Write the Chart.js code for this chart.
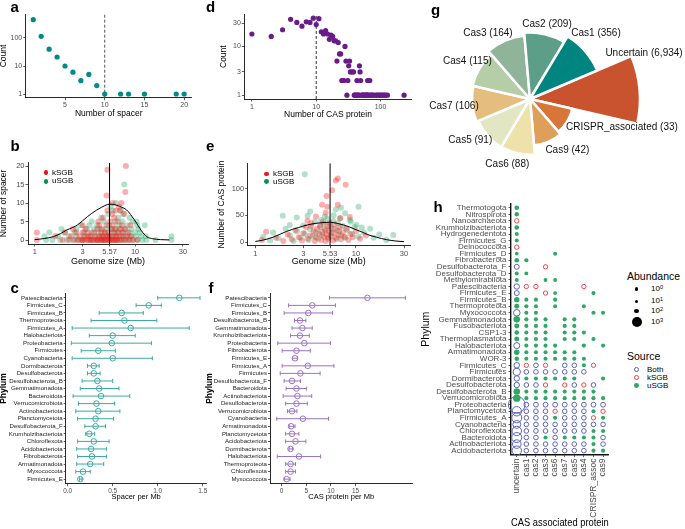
<!DOCTYPE html>
<html><head><meta charset="utf-8"><title>CRISPR-Cas figure</title>
<script src="https://cdn.jsdelivr.net/npm/chart.js@4.4.1/dist/chart.umd.min.js"></script>
<style>
html,body{margin:0;padding:0;background:#fff;}
#wrap{position:relative;width:685px;height:529px;overflow:hidden;font-family:'Liberation Sans',Arial,sans-serif;background:#fff;}
canvas{position:absolute;}
.lab{position:absolute;font-weight:bold;font-size:15px;line-height:15px;color:#000;}
.t{position:absolute;white-space:nowrap;color:#000;}
.dot{position:absolute;border-radius:50%;box-sizing:border-box;}
sup{font-size:70%;vertical-align:0;position:relative;top:-0.45em;}
</style></head>
<body>
<div id="wrap">
<canvas id="ca" width="202" height="120" style="left:-2px;top:0px"></canvas>
<canvas id="cd" width="205" height="120" style="left:215px;top:0px"></canvas>
<canvas id="cb" width="202" height="145" style="left:-2px;top:125px"></canvas>
<canvas id="ce" width="205" height="145" style="left:215px;top:125px"></canvas>
<canvas id="cc" width="215" height="225" style="left:-2px;top:285px"></canvas>
<canvas id="cf" width="215" height="225" style="left:204px;top:285px"></canvas>
<canvas id="ch" width="200" height="334" style="left:415px;top:195px"></canvas>
<canvas id="cg" width="275" height="240" style="left:410px;top:-20px"></canvas>
<div class="lab" style="left:10.5px;top:-1px">a</div>
<div class="lab" style="left:206px;top:-1px">d</div>
<div class="lab" style="left:10.5px;top:138px">b</div>
<div class="lab" style="left:206px;top:138px">e</div>
<div class="lab" style="left:10.5px;top:280px">c</div>
<div class="lab" style="left:208.5px;top:280px">f</div>
<div class="lab" style="left:431px;top:2.3px">g</div>
<div class="lab" style="left:433.5px;top:199px">h</div>
<div id="legends"></div>
</div>
<script>
// ---------- data ----------
// a: spacer number distribution
const spacerNum   = [1,2,3,4,5,6,7,8,9,10,12,13,15,19,20];
const spacerCount = [450,115,40,21,10,6,3,5,2,1,1,1,1,1,1];
const spacerCut = 10;
// d: CAS protein number distribution
const casNum   = [1,2,3,4,5,6,7,8,9,10,11,12,13,14,15,16,17,18,19,20,21,22,23,24,25,26,27,28,29,30,31,32,33,34,36,38,43,47,48,49,63,68,
                  39,40,41,42,44,45,46,50,52,53,55,56,58,60,61,62,64,66,70,72,75,78,84,88,92,96,100,105,110,115,120,128,232];
const casCount = [18,16,22,36,31,26,32,31,38,28,37,20,18,21,18,14,17,16,13,13,5,12,7,7,2,2,2,10,5,1,2,4,5,3,3,3,2,4,3,2,2,2,
                  1,1,1,1,1,1,1,1,1,1,1,1,1,1,1,1,1,1,1,1,1,1,1,1,1,1,1,1,1,1,1,1,1,1];
const casCut = 10;
// b: genome size (Mb) vs number of spacer
const bKSGB = [[1.05,0],[1.9,0],[2.2,0],[2.5,0],[2.7,0],[2.9,0],[3.1,0],[3.3,0],[3.5,0],[3.7,0],[3.9,0],[4.1,0],[4.3,0],[4.5,0],[4.7,0],[4.9,0],[5.1,0],[5.3,0],[5.5,0],[5.8,0],[6.0,0],[6.3,0],[6.6,0],[6.9,0],[7.3,0],[7.7,0],[8.2,0],[8.8,0],[9.5,0],[10.5,0],[3.0,0],[3.6,0],[4.2,0],[4.8,0],[5.6,0],[6.4,0],
 [1.6,1],[2.3,1],[2.8,1],[3.2,1],[3.6,1],[4.0,1],[4.4,1],[4.8,1],[5.2,1],[5.6,1],[6.1,1],[6.5,1],[7.0,1],[7.6,1],[8.4,1],[9.2,1],[3.4,1],[4.6,1],[5.4,1],
 [1.05,2],[2.0,2],[2.6,2],[3.0,2],[3.4,2],[3.9,2],[4.6,2],[5.0,2],[5.4,2],[6.2,2],[6.8,2],[7.5,2],[8.5,2],
 [2.4,3],[3.2,3],[4.2,3],[4.7,3],[5.9,3],[6.4,3],[7.2,3],[8.0,3],[3.0,4],[4.4,4],[5.2,4],[6.0,4],[7.4,4],[9.0,4],
 [4.3,5],[5.6,5],[6.7,5],[4.8,6],[6.2,6],[5.9,7],[7.8,7],[5.3,8],[6.4,8],[7.1,8],[6.9,9],[6.0,10],[7.3,10],[5.2,12],[8.0,13],[5.3,19],[8.1,20]];
const bUSGB = [[1.3,0],[1.5,0],[1.8,0],[2.1,0],[2.4,0],[2.7,0],[3.0,0],[3.4,0],[3.8,0],[4.2,0],[4.6,0],[5.0,0],[5.5,0],[6.0,0],[6.6,0],[7.2,0],[7.9,0],[8.7,0],[9.6,0],[10.6,0],[11.8,0],[13,0],[16,0],[23,0],
 [1.25,1],[1.7,1],[2.2,1],[2.6,1],[3.1,1],[3.6,1],[4.1,1],[4.7,1],[5.3,1],[5.9,1],[6.5,1],[7.3,1],[8.1,1],[9.0,1],[10.2,1],[11.5,1],[12.8,1],[23,1],
 [1.4,2],[2.0,2],[2.5,2],[3.1,2],[3.7,2],[4.3,2],[5.0,2],[5.8,2],[6.6,2],[7.6,2],[8.8,2],[10.0,2],[11.2,2],
 [1.85,3],[2.6,3],[3.3,3],[3.9,3],[4.5,3],[5.1,3],[5.7,3],[6.3,3],[7.0,3],[7.9,3],[9.2,3],[10.8,3],
 [2.9,4],[3.5,4],[4.2,4],[5.5,4],[6.9,4],[8.4,4],[10.5,4],[12.5,4],[3.7,5],[4.9,5],[6.3,5],[7.5,5],[9.4,5],[10.3,5],
 [4.6,6],[6.8,6],[8.8,6],[5.4,7],[7.6,7],[6.0,8],[7.2,8],[5.7,9],[6.45,10],[7.8,15]];
const bCurveX = [1,1.25,1.53,1.8,2.08,2.4,2.66,3,3.35,3.7,4.15,4.6,5,5.57,6.2,7,8.26,9.3,10.4,11.5,13.1,15,18,22];
const bCurveY = [0.1,0.4,0.9,1.7,2.7,3.4,4.05,5.2,6.3,7.2,8.1,8.8,9.3,9.7,9.6,9.1,8.1,6.4,4.5,2.6,0.9,0.35,0.1,0.02];
const bMedian = 5.57;
const bXTicks = [1,3,5.57,10,30];
// e: genome size (Mb) vs number of CAS protein
const eKSGB = [[1.16,4],[1.28,19],[1.6,8],[1.9,2],[2.1,14],[2.3,5],[2.5,22],[2.7,9],[2.9,3],[3.0,17],[3.2,28],[3.3,6],[3.5,12],[3.6,35],[3.8,20],[3.9,2],[4.0,9],[4.1,25],[4.3,15],[4.4,31],[4.5,4],[4.6,19],[4.7,38],[4.8,10],[4.9,24],[5.0,2],[5.1,14],[5.2,30],[5.3,6],[5.4,20],[5.5,36],[5.6,11],[5.7,26],[5.9,3],[6.0,17],[6.1,33],[6.3,8],[6.5,22],[6.7,13],[6.9,28],[7.1,5],[7.4,18],[7.7,10],[8.0,25],[8.4,4],[8.8,15],[9.3,9],[10,20],[11,6],[12.5,12],
 [3.3,40],[4.6,70],[5.1,86],[5.2,66],[5.8,97],[6.3,115],[6.6,119],[6.6,70],[7.9,107],[8.7,47],[4.0,48],[7.0,45],[5.0,55],[3.6,30]];
const eUSGB = [[1.2,10],[1.4,3],[1.5,18],[1.7,7],[1.87,49],[2.0,25],[2.2,12],[2.4,2],[2.58,46],[2.6,20],[2.8,8],[3.0,31],[3.1,127],[3.1,15],[3.3,49],[3.4,4],[3.5,57],[3.5,24],[3.7,11],[3.9,38],[4.0,18],[4.2,6],[4.4,28],[4.5,41],[4.6,13],[4.8,34],[5.0,21],[5.2,44],[5.3,9],[5.5,30],[5.7,16],[5.9,40],[6.1,25],[6.3,61],[6.4,5],[6.6,35],[6.8,20],[7.1,64],[7.1,12],[7.4,30],[7.8,54],[7.8,8],[8.2,22],[8.7,41],[8.9,38],[9.2,15],[9.7,28],[10.1,32],[10.6,66],[10.6,10],[11.4,27],[12,18],[13.8,25],[15,8],[17,14],[20,4],[23.5,13],[6.0,50],[4.9,48],[6.9,44],[2.2,32]];
const eCurveX = [1,1.2,1.5,2.05,2.67,3.3,4,4.7,5.53,6.5,7.5,8.7,10,11.4,13,16,20,25,30];
const eCurveY = [1,3.7,9,20,27,32,35,36.5,37,35,32,28,23,19,14,9,4.5,1.8,0.7];
const eMedian = 5.53;
const eXTicks = [1,3,5.53,10,30];
// c: spacer per Mb by phylum
const cPhyla = ['Patescibacteria','Firmicutes_C','Firmicutes_B','Thermoproteota','Firmicutes_A','Halobacteriota','Proteobacteria','Firmicutes','Cyanobacteria','Dormibacterota','Desulfobacterota','Desulfobacterota_B','Gemmatimonadota','Bacteroidota','Verrucomicrobiota','Actinobacteriota','Planctomycetota','Desulfobacterota_F','Krumholzibacteriota','Chloroflexota','Acidobacteriota','Fibrobacterota','Armatimonadota','Myxococcota','Firmicutes_E'];
const cMean = [1.24,0.90,0.60,0.63,0.70,0.50,0.49,0.34,0.50,0.29,0.29,0.33,0.35,0.37,0.32,0.34,0.31,0.31,0.24,0.29,0.26,0.27,0.25,0.17,0.14];
const cLow  = [1.00,0.76,0.35,0.26,0.05,0.24,0.04,0.15,0.05,0.22,0.22,0.16,0.14,0.06,0.12,0.09,0.11,0.19,0.20,0.11,0.10,0.11,0.10,0.09,0.13];
const cHigh = [1.47,1.04,0.84,0.99,1.35,0.75,0.93,0.53,0.94,0.35,0.36,0.50,0.57,0.69,0.52,0.58,0.51,0.42,0.30,0.46,0.43,0.43,0.40,0.25,0.16];
// f: CAS protein per Mb by phylum
const fPhyla = ['Patescibacteria','Firmicutes_C','Firmicutes_B','Desulfobacterota_B','Gemmatimonadota','Krumholzibacteriota','Proteobacteria','Fibrobacterota','Firmicutes_E','Firmicutes_A','Firmicutes','Desulfobacterota_F','Bacteroidota','Actinobacteriota','Desulfobacterota','Verrucomicrobiota','Cyanobacteria','Armatimonadota','Planctomycetota','Acidobacteriota','Dormibacterota','Halobacteriota','Thermoproteota','Chloroflexota','Myxococcota'];
const fMean = [17.4,6.2,5.4,3.7,4.2,3.7,4.6,3.0,2.7,5.3,3.8,2.1,3.0,3.2,3.0,2.1,4.3,1.9,2.1,2.8,1.8,3.5,1.8,1.8,1.0];
const fLow  = [9.7,1.4,0.5,2.6,2.1,1.8,-0.8,0.1,2.2,0.1,-0.3,0.5,0.9,0.3,0.8,1.2,-1.0,1.5,0.8,0.8,1.5,-0.9,0.8,0.8,0.5];
const fHigh = [25.1,10.9,10.3,4.9,6.2,5.6,9.9,5.8,3.2,10.6,7.8,3.8,5.0,6.1,5.2,3.1,9.5,2.7,3.5,4.9,2.2,7.9,2.8,2.8,1.7];
// g: CAS associated protein counts (clockwise from Uncertain)
const gCats   = ['Uncertain','CRISPR_associated','Cas9','Cas6','Cas5','Cas7','Cas4','Cas3','Cas2','Cas1'];
const gCounts = [6934,33,42,88,91,106,115,164,209,356];
// h: phylum x CAS protein occurrence
const hCols = ['uncertain','cas1','cas2','cas3','cas6','cas7','cas5','cas4','CRISPR_assoc','cas9'];
const hRows = ['Thermotogota','Nitrospirota','Nanoarchaeota','Krumholzibacteriota','Hydrogenedentota','Firmicutes_G','Deinococcota','Firmicutes_D','Fibrobacterota','Desulfobacterota_F','Desulfobacterota_D','Methylomirabilota','Patescibacteria','Firmicutes_E','Firmicutes_B','Thermoproteota','Myxococcota','Gemmatimonadota','Fusobacteriota','CSP1-3','Thermoplasmatota','Halobacteriota','Armatimonadota','WOR-3','Firmicutes_C','Firmicutes','Dormibacterota','Desulfobacterota','Desulfobacterota_B','Verrucomicrobiota','Proteobacteria','Planctomycetota','Firmicutes_A','Cyanobacteria','Chloroflexota','Bacteroidota','Actinobacteriota','Acidobacteriota'];
// source per cell: b = Both, k = kSGB, u = uSGB, . = absent
const hSource = ['u.........','u.........','k.........','u.........','u.........','u.........','k.........','u...u.....','uu........','b..k......',
 'uu........','u..uu.....','bkk....k..','b..ku...u.','uuu.u.....','uuu.u..u..','buu.....uu','uuuu.uu...','uuuu.uu...','uuuu.uuu..',
 'uuuu.uu.u.','buuuu..u.u','uuuuuuu...','uuuuuuuu..','bkbk.bbuk.','bbbbbbbb..','buuuuuu..u','bbbk.kbkb.','uuuuuuuuu.','uuuuuuuuuu',
 'bbbbbbbbbb','bbbbkbbbuk','bbbbubbbku','bbbbbbbbbb','bbbbbbbbuu','bbbubuuuub','bbbbbbbbub','bbbbbbbbuu'];
const hAbund = [
 [110,0,0,0,0,0,0,0,0,0],[90,0,0,0,0,0,0,0,0,0],[90,0,0,0,0,0,0,0,0,0],[110,0,0,0,0,0,0,0,0,0],[50,0,0,0,0,0,0,0,0,0],
 [50,0,0,0,0,0,0,0,0,0],[90,0,0,0,0,0,0,0,0,0],[20,0,0,0,50,0,0,0,0,0],[110,60,0,0,0,0,0,0,0,0],[150,0,0,80,0,0,0,0,0,0],
 [50,40,0,0,0,0,0,0,0,0],[50,0,0,40,40,0,0,0,0,0],[200,80,80,0,0,0,0,80,0,0],[150,0,0,80,40,0,0,0,60,0],[200,60,60,0,60,0,0,0,0,0],
 [150,60,60,0,50,0,0,50,0,0],[360,60,60,0,0,0,0,0,60,60],[360,70,70,60,0,60,60,0,0,0],[150,60,60,60,0,60,60,0,0,0],[110,60,60,60,0,60,60,60,0,0],
 [150,60,60,60,0,60,60,0,60,0],[280,60,60,60,60,0,0,60,0,60],[200,60,60,60,60,60,60,0,0,0],[110,60,60,60,60,60,60,60,0,0],[225,80,110,80,0,110,110,60,80,0],
 [490,110,110,110,110,110,110,110,0,0],[200,60,60,60,60,60,60,0,0,60],[200,110,110,80,0,80,110,80,110,0],[360,60,60,60,60,60,60,60,60,0],[490,60,60,60,60,60,60,60,60,60],
 [3000,130,130,130,130,130,130,130,130,130],[870,110,110,110,80,110,110,110,60,80],[1000,110,110,110,60,110,110,110,80,60],[590,110,110,110,110,110,110,110,110,110],[870,110,110,110,110,110,110,110,60,60],
 [1000,110,110,60,110,60,60,60,60,110],[700,110,110,110,110,110,110,110,60,110],[870,110,110,110,110,110,110,110,60,60]];
const hLegendAbund = [1,10,100,1000];

// ---------- styles ----------
const TEAL = '#008b8b', PURPLE = '#6a1b8a';
const C_COL = '#3da9a2', F_COL = '#9a72c6';
const RED_A = 'rgba(240,30,30,0.36)', GREEN_A = 'rgba(20,160,90,0.32)';
const G_COLORS = ['#c9532e','#d8763a','#de9f5a','#efe1aa','#e2e6c2','#e4bd7f','#b5cea7','#8fb49a','#5c9e88','#00847f'];
const G_LABEL_GAP = 14;
const gLabelNudge = [[-9.5,-35.2],[42.7,-1.6],[13.7,-4],[-7,-2.4],[-6.8,-5],[-4.3,0.7],[0,-0.4],[-11.8,5.2],[-1.1,3.3],[0.3,-8.9]];
const H_COL = {b:'#5b62b8', k:'#f0434a', u:'#2fa866'};
const sizeOf = v => Math.sqrt(2.89 + 0.0221 * v);
const FONT = "'Liberation Sans', Arial, sans-serif";

Chart.defaults.font.family = FONT;
Chart.defaults.color = '#4d4d4d';
Chart.defaults.animation = false;
Chart.defaults.responsive = false;
Chart.defaults.devicePixelRatio = 1;
Chart.defaults.events = [];
Chart.defaults.plugins.legend.display = false;
Chart.defaults.plugins.tooltip.enabled = false;

function axis(o) {
  return {
    type: o.type || 'linear', position: o.position, min: o.min, max: o.max,
    reverse: !!o.reverse, bounds: 'data',
    afterBuildTicks: s => { s.ticks = o.ticks.map(v => ({value: v})); },
    afterFit: s => { if (o.position === 'left') s.width = o.fit; else s.height = o.fit; },
    ticks: { autoSkip: false, color: o.tc || '#4d4d4d', font: {size: o.fs || 7, family: o.ff || FONT},
             padding: o.tp === undefined ? 1 : o.tp, callback: o.labels || (v => String(v)),
             minRotation: o.rot || 0, maxRotation: o.rot || 0 },
    grid: { display: true, drawOnChartArea: false, drawTicks: true, tickLength: o.tl || 2.5, color: '#333', lineWidth: 0.8 },
    border: { display: true, color: '#111', width: o.bw || 0.9 },
    title: { display: !!o.title, text: o.title, color: '#000',
             font: {size: o.tfs || 8.5, weight: o.tw || 'normal', family: FONT}, padding: o.tpad || {top:0,bottom:0} }
  };
}
function chart(id, type, datasets, scales, pad, plugins, extra) {
  return new Chart(document.getElementById(id), {
    type, data: extra && extra.data ? extra.data : {datasets}, plugins: plugins || [],
    options: Object.assign({ layout: {autoPadding: false, padding: pad}, scales }, extra && extra.options ? extra.options : {})
  });
}
const range = n => Array.from({length: n}, (_, i) => i + 1);

// ---------- a ----------
const aYMin = 0.738, aYMax = 702;
chart('ca', 'scatter', [
  {data: spacerNum.map((x, i) => ({x, y: spacerCount[i]})), backgroundColor: TEAL, pointRadius: 2.6, borderWidth: 0, clip: false},
  {type: 'line', data: [{x: spacerCut, y: aYMin}, {x: spacerCut, y: aYMax}], borderColor: '#555', borderWidth: 1, borderDash: [3, 2], pointRadius: 0}
], {
  x: axis({position: 'bottom', min: 0.05, max: 20.95, ticks: [5,10,15,20], fit: 22.3, title: 'Number of spacer', tpad: {top:0,bottom:0.9}}),
  y: axis({position: 'left', type: 'logarithmic', min: aYMin, max: aYMax, ticks: [1,10,100], fit: 27.7, title: 'Count', tpad: {top:0.6,bottom:0}})
}, {left: 0, top: 14.3, right: 8.3, bottom: 0});

// ---------- d ----------
const dYMin = 0.834, dYMax = 45.6;
chart('cd', 'scatter', [
  {data: casNum.map((x, i) => ({x, y: casCount[i]})), backgroundColor: PURPLE, pointRadius: 2.6, borderWidth: 0, clip: false},
  {type: 'line', data: [{x: casCut, y: dYMin}, {x: casCut, y: dYMax}], borderColor: '#333', borderWidth: 1, borderDash: [3, 2], pointRadius: 0}
], {
  x: axis({position: 'bottom', type: 'logarithmic', min: 0.762, max: 305, ticks: [1,10,100], fit: 21, title: 'Number of CAS protein', tpad: {top:0,bottom:0}}),
  y: axis({position: 'left', type: 'logarithmic', min: dYMin, max: dYMax, ticks: [1,3,10,30], fit: 29.3, title: 'Count', tpad: {top:3.2,bottom:0}})
}, {left: 0, top: 14.3, right: 8.3, bottom: 0});

// ---------- b / e ----------
function genomePanel(id, ks, us, cx, cy, med, xt, xr, yr, yt, yTitle, fitY, pad, fitX, yTpad) {
  chart(id, 'scatter', [
    {type: 'line', data: cx.map((x, i) => ({x, y: cy[i]})), borderColor: '#000', borderWidth: 1, pointRadius: 0, cubicInterpolationMode: 'monotone'},
    {type: 'line', data: [{x: med, y: yr[0]}, {x: med, y: yr[1]}], borderColor: '#000', borderWidth: 1, pointRadius: 0},
    {data: ks.map(p => ({x: p[0], y: p[1]})), backgroundColor: RED_A, pointRadius: 3, borderWidth: 0, clip: false},
    {data: us.map(p => ({x: p[0], y: p[1]})), backgroundColor: GREEN_A, pointRadius: 3, borderWidth: 0, clip: false}
  ], {
    x: axis({position: 'bottom', type: 'logarithmic', min: xr[0], max: xr[1], ticks: xt, fit: fitX, fs: 7.5, title: 'Genome size (Mb)', tfs: 9, tpad: {top:0,bottom:3.5}}),
    y: axis({position: 'left', min: yr[0], max: yr[1], ticks: yt, fit: fitY, fs: 7.5, title: yTitle, tpad: {top: yTpad, bottom: 0}})
  }, pad);
}
genomePanel('cb', bKSGB, bUSGB, bCurveX, bCurveY, bMedian, bXTicks, [0.857, 33.7], [-1.08, 20.9], [0,5,10,15,20], 'Number of spacer', 30, {left:0, top:37.7, right:12, bottom:0}, 26, 0.9);
genomePanel('ce', eKSGB, eUSGB, eCurveX, eCurveY, eMedian, eXTicks, [0.84, 34.4], [-6.9, 147.4], [0,50,100], 'Number of CAS protein', 32.7, {left:0, top:38.3, right:10, bottom:0}, 24.3, 1.9);

// ---------- c / f ----------
function errPanel(id, names, mid, lo, hi, color, xr, xt, xfmt, xTitle, fitY, pad) {
  const ds = [{data: names.map((n, i) => ({x: mid[i], y: i + 1})), pointRadius: 2.8, pointBorderWidth: 1,
               pointBorderColor: color, pointBackgroundColor: 'rgba(0,0,0,0)', clip: false}];
  names.forEach((n, i) => ds.push({type: 'line', data: [{x: lo[i], y: i + 1}, {x: hi[i], y: i + 1}],
    borderColor: color, borderWidth: 1, pointStyle: 'line', pointRotation: 90, pointRadius: 2,
    pointBorderColor: color, pointBorderWidth: 1, clip: false}));
  chart(id, 'scatter', ds, {
    x: axis({position: 'bottom', min: xr[0], max: xr[1], ticks: xt, labels: xfmt, fit: 26.3, fs: 6.5, title: xTitle, tfs: 7.5, tpad: {top:0,bottom:8.5}}),
    y: axis({position: 'left', min: 0.4, max: names.length + 0.6, reverse: true, ticks: range(names.length), labels: v => names[v - 1],
             fit: fitY, fs: 6.1, tc: '#222', tl: 2, tp: 1, title: 'Phylum', tfs: 8.5, tw: 'bold', tpad: {top:0.2,bottom:0}})
  }, pad);
}
errPanel('cc', cPhyla, cMean, cLow, cHigh, C_COL, [-0.022, 1.544], [0,0.5,1,1.5], v => v.toFixed(1), 'Spacer per Mb', 67.7, {left:0, top:8.3, right:6.3, bottom:0});
errPanel('cf', fPhyla, fMean, fLow, fHigh, F_COL, [-2.37, 26.5], [0,5,10,15], v => String(v), 'CAS protein per Mb', 66, {left:0, top:8.3, right:6.7, bottom:0});

// ---------- g ----------
const pieLabels = {
  id: 'pieLabels',
  afterDatasetsDraw(ch) {
    const ctx = ch.ctx, meta = ch.getDatasetMeta(0);
    ctx.save();
    ctx.font = '10px ' + FONT; ctx.fillStyle = '#111';
    ctx.textAlign = 'center'; ctx.textBaseline = 'middle';
    meta.data.forEach((arc, i) => {
      const p = arc.getProps(['x','y','startAngle','endAngle','outerRadius'], true);
      const mid = (p.startAngle + p.endAngle) / 2, d = p.outerRadius + G_LABEL_GAP, n = gLabelNudge[i];
      const txt = gCats[i] + ' (' + String(gCounts[i]).replace(/\B(?=(\d{3})+(?!\d))/g, ',') + ')';
      ctx.fillText(txt, p.x + Math.cos(mid) * d + n[0], p.y + Math.sin(mid) * d + n[1]);
    });
    ctx.restore();
  }
};
chart('cg', 'polarArea', null, null, null, [pieLabels], {
  data: {labels: gCats, datasets: [{data: gCounts.map(v => Math.log10(v)), backgroundColor: G_COLORS, borderColor: '#fff', borderWidth: 2.5, clip: false}]},
  options: {layout: {autoPadding: false, padding: {left: 5.7, top: 4, right: 39.3, bottom: 6}},
            scales: {r: {display: false, min: 0, max: 4.016, startAngle: 67}}}
});

// ---------- h ----------
const hSets = {b: [], k: [], u: []};
hRows.forEach((row, i) => {
  for (let j = 0; j < hCols.length; j++) {
    const s = hSource[i][j];
    if (s === '.') continue;
    hSets[s].push({x: j + 1, y: i + 1, r: sizeOf(hAbund[i][j])});
  }
});
chart('ch', 'bubble', [
  {data: hSets.u, backgroundColor: H_COL.u, borderWidth: 0, clip: false},
  {data: hSets.k, backgroundColor: 'rgba(0,0,0,0)', borderColor: H_COL.k, borderWidth: 1, clip: false},
  {data: hSets.b, backgroundColor: 'rgba(0,0,0,0)', borderColor: H_COL.b, borderWidth: 1, clip: false}
], {
  x: axis({position: 'bottom', min: 0.4, max: hCols.length + 0.6, ticks: range(hCols.length), labels: v => hCols[v - 1],
           rot: 90, fit: 74.4, fs: 8.5, tl: 2.5, tp: 1.5, bw: 1.4, title: 'CAS associated protein', tfs: 10.5, tpad: {top:0,bottom:0}}),
  y: axis({position: 'left', min: 0.4, max: hRows.length + 0.6, reverse: true, ticks: range(hRows.length), labels: v => hRows[v - 1],
           fit: 96, fs: 8, tl: 2.5, tp: 2, bw: 1.4, title: 'Phylum', tfs: 10.5, tpad: {top:5,bottom:0}})
}, {left: 0, top: 8.8, right: 4.1, bottom: 0});

// ---------- HTML legends ----------
const L = document.getElementById('legends');
function text(str, left, cy, fs) {
  const d = document.createElement('div'); d.className = 't';
  d.style.left = left + 'px'; d.style.top = (cy - 0.49 * fs) + 'px';
  d.style.fontSize = fs + 'px'; d.style.lineHeight = fs + 'px'; d.innerHTML = str; L.appendChild(d);
}
function dot(cx, cy, r, fill, stroke) {
  const d = document.createElement('div'); d.className = 'dot';
  d.style.left = (cx - r) + 'px'; d.style.top = (cy - r) + 'px';
  d.style.width = d.style.height = (2 * r) + 'px';
  d.style.background = fill || 'transparent';
  if (stroke) d.style.border = '1px solid ' + stroke;
  L.appendChild(d);
}
// b and e legends
[['kSGB', '#e8141c'], ['uSGB', '#0a8f4a']].forEach((it, i) => {
  dot(46, 172.7 + i * 8.5, 2.4, it[1]); text(it[0], 52, 172.7 + i * 8.5, 8);
  dot(266.7, 174 + i * 7.5, 2.4, it[1]); text(it[0], 273, 174 + i * 7.5, 8);
});
// h legends
text('Abundance', 627, 275.7, 10.5);
const abY = [289, 301.3, 311, 322.3];
hLegendAbund.forEach((v, i) => {
  dot(636.7, abY[i], sizeOf(v), '#000');
  text('10<sup>' + Math.round(Math.log10(v)) + '</sup>', 651, abY[i], 8);
});
text('Source', 627, 355.7, 10.5);
[['Both', null, H_COL.b], ['kSGB', null, H_COL.k], ['uSGB', H_COL.u, null]].forEach((it, i) => {
  const cy = 369.5 + i * 8;
  dot(636.5, cy, 2.4, it[1], it[2]);
  text(it[0], 647, cy, 8);
});
</script>
</body></html>
